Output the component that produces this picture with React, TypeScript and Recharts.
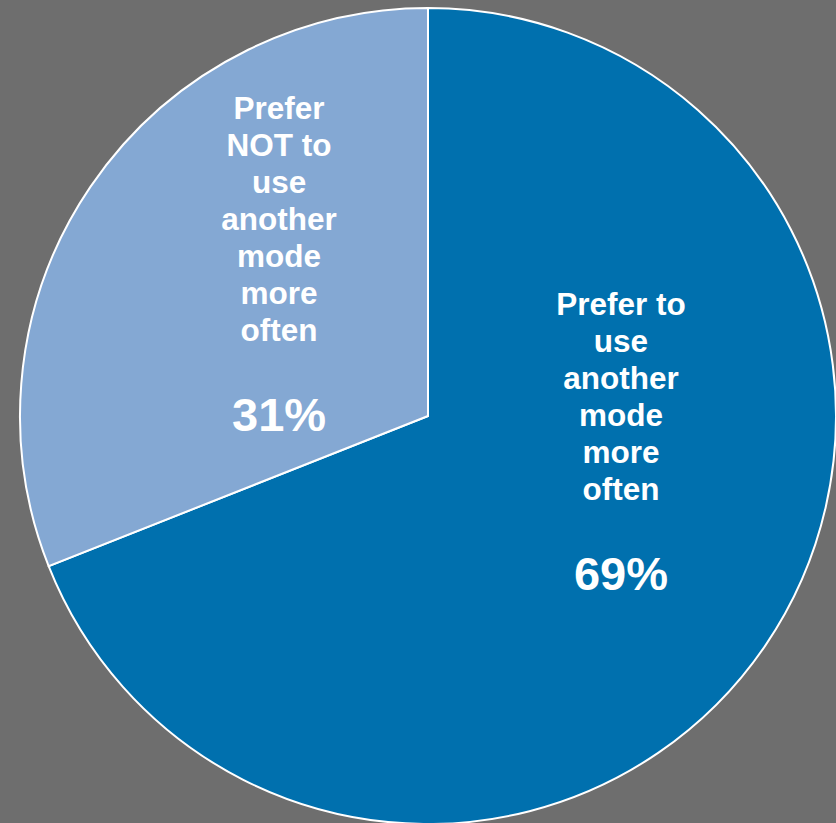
import { Pie, PieChart, Cell } from 'recharts'

const categories = ['Prefer to use another mode more often', 'Prefer NOT to use another mode more often']
const shares = [69, 31]
const labelLines = [
  ['Prefer to', 'use', 'another', 'mode', 'more', 'often'],
  ['Prefer', 'NOT to', 'use', 'another', 'mode', 'more', 'often'],
]

const colors = ['#0070ae', '#84a8d3']
// label anchor (first line centre) as a fraction of the radius from the centre
const labelSpots = [
  { dx: 0.473, dy: -0.275 },
  { dx: -0.365, dy: -0.755 },
]

const data = categories.map((name, i) => ({ name, value: shares[i] }))

function SliceLabel(props: any) {
  const { cx, cy, outerRadius, index } = props
  const spot = labelSpots[index]
  const x = cx + spot.dx * outerRadius
  const y = cy + spot.dy * outerRadius
  const lines = labelLines[index]
  return (
    <text
      x={x}
      y={y}
      fill="#ffffff"
      textAnchor="middle"
      dominantBaseline="central"
      fontFamily="'Liberation Sans', Arial, sans-serif"
      fontWeight="bold"
    >
      {lines.map((line, i) => (
        <tspan key={i} x={x} dy={i === 0 ? 0 : 37} fontSize={31.5}>
          {line}
        </tspan>
      ))}
      <tspan x={x} dy={84} fontSize={47}>
        {shares[index]}%
      </tspan>
    </text>
  )
}

export default function App() {
  return (
    <div style={{ position: 'absolute', left: 0, top: 0, width: 836, height: 823, background: '#6e6e6e', overflow: 'hidden' }}>
      <PieChart width={836} height={823} margin={{ top: 0, right: 0, bottom: 0, left: 0 }}>
        <Pie
          data={data}
          dataKey="value"
          nameKey="name"
          cx={428}
          cy={416}
          outerRadius={408}
          startAngle={90}
          endAngle={-270}
          stroke="#ffffff"
          strokeWidth={2}
          label={SliceLabel}
          labelLine={false}
          isAnimationActive={false}
        >
          {data.map((entry, i) => (
            <Cell key={entry.name} fill={colors[i]} />
          ))}
        </Pie>
      </PieChart>
    </div>
  )
}
